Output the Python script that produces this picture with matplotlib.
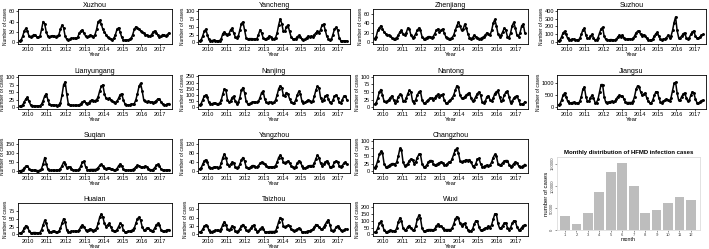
import matplotlib
matplotlib.use("Agg")
import matplotlib.pyplot as plt
import numpy as np

plt.rcParams['font.family'] = ['Liberation Sans', 'DejaVu Sans']

years = [2010, 2011, 2012, 2013, 2014, 2015, 2016, 2017]

# monthly case counts, Jan 2010 .. Dec 2017
xuzhou = [3, 5, 12, 22, 27, 22, 12, 10, 12, 15, 14, 10,
          10, 12, 25, 40, 35, 20, 12, 10, 12, 13, 12, 11,
          12, 15, 25, 33, 28, 12, 6, 5, 6, 8, 8, 8,
          8, 10, 18, 22, 24, 18, 12, 10, 12, 14, 13, 10,
          15, 25, 40, 42, 35, 25, 20, 15, 10, 8, 6, 5,
          8, 15, 25, 28, 20, 10, 5, 4, 4, 5, 6, 8,
          15, 25, 30, 28, 25, 22, 20, 18, 15, 14, 13, 12,
          15, 20, 22, 18, 14, 10, 12, 15, 14, 12, 15, 18]
yancheng = [5, 8, 20, 35, 42, 25, 10, 6, 6, 7, 6, 5,
            5, 6, 12, 28, 33, 28, 25, 28, 40, 45, 30, 18,
            15, 20, 40, 60, 65, 40, 15, 10, 12, 12, 12, 10,
            10, 12, 25, 40, 30, 15, 10, 12, 15, 20, 18, 12,
            12, 15, 30, 55, 75, 60, 35, 35, 50, 55, 35, 18,
            12, 10, 12, 18, 22, 18, 10, 8, 10, 15, 20, 18,
            20, 18, 25, 30, 35, 30, 40, 55, 58, 40, 20, 12,
            8, 10, 25, 42, 48, 40, 15, 6, 5, 5, 5, 5]
zhenjiang = [8, 12, 25, 30, 35, 28, 22, 18, 15, 15, 14, 10,
             8, 8, 10, 15, 22, 25, 18, 15, 20, 30, 28, 15,
             10, 12, 18, 25, 30, 25, 12, 8, 8, 10, 12, 12,
             10, 12, 18, 25, 28, 22, 25, 28, 20, 12, 10, 8,
             8, 10, 15, 25, 35, 42, 35, 25, 28, 38, 30, 18,
             10, 8, 10, 15, 12, 10, 8, 8, 10, 12, 15, 20,
             18, 15, 25, 40, 48, 35, 18, 12, 15, 22, 30, 25,
             12, 10, 20, 35, 42, 30, 15, 12, 20, 35, 38, 20]
suzhou = [20, 30, 70, 120, 140, 100, 50, 35, 35, 40, 40, 35,
          30, 30, 50, 100, 160, 175, 90, 50, 50, 80, 100, 60,
          30, 30, 60, 120, 170, 190, 80, 40, 30, 30, 35, 35,
          30, 30, 40, 70, 90, 70, 95, 60, 45, 40, 45, 45,
          40, 50, 80, 120, 140, 140, 100, 85, 95, 80, 50, 30,
          25, 25, 40, 80, 110, 125, 80, 40, 35, 40, 45, 60,
          90, 60, 80, 150, 250, 320, 150, 60, 60, 80, 110, 120,
          60, 40, 60, 100, 130, 145, 80, 50, 50, 70, 90, 100]
lianyungang = [3, 4, 8, 18, 28, 33, 20, 8, 5, 5, 5, 4,
               4, 5, 10, 22, 38, 45, 25, 10, 8, 8, 7, 6,
               5, 8, 15, 40, 75, 85, 45, 12, 8, 7, 6, 6,
               6, 6, 8, 12, 18, 20, 15, 12, 15, 20, 25, 22,
               22, 25, 35, 55, 70, 75, 45, 30, 28, 30, 25, 20,
               18, 15, 20, 30, 42, 45, 25, 12, 8, 8, 8, 10,
               10, 12, 25, 45, 70, 80, 55, 25, 20, 18, 20, 18,
               18, 15, 18, 22, 28, 28, 18, 10, 8, 8, 10, 12]
nanjing = [20, 30, 60, 90, 100, 85, 40, 30, 30, 35, 35, 30,
           30, 35, 60, 110, 150, 140, 60, 45, 50, 80, 90, 50,
           30, 40, 80, 140, 160, 120, 50, 30, 30, 35, 40, 45,
           45, 40, 50, 80, 120, 130, 70, 40, 35, 40, 40, 35,
           40, 60, 100, 150, 175, 160, 100, 90, 120, 110, 70, 45,
           35, 35, 60, 100, 130, 110, 50, 35, 40, 50, 60, 55,
           40, 50, 90, 140, 170, 160, 80, 55, 60, 90, 100, 70,
           40, 35, 60, 90, 100, 80, 40, 35, 60, 90, 95, 60]
nantong = [10, 15, 30, 50, 58, 40, 20, 18, 20, 25, 32, 38,
           25, 15, 20, 35, 42, 40, 22, 20, 30, 45, 55, 50,
           20, 15, 25, 40, 50, 52, 25, 15, 15, 20, 25, 30,
           30, 25, 30, 38, 42, 35, 40, 42, 25, 15, 15, 20,
           25, 30, 40, 55, 70, 65, 40, 30, 30, 35, 40, 45,
           48, 30, 20, 25, 35, 45, 50, 40, 18, 15, 20, 35,
           38, 25, 20, 30, 45, 50, 55, 35, 20, 25, 40, 50,
           52, 35, 15, 20, 30, 35, 38, 25, 12, 10, 12, 18]
jiangsu = [100, 150, 300, 500, 600, 450, 250, 200, 180, 200, 210, 200,
           180, 170, 250, 450, 750, 850, 450, 250, 250, 400, 500, 400,
           200, 200, 350, 650, 950, 950, 450, 220, 200, 220, 240, 250,
           220, 250, 350, 450, 500, 480, 480, 350, 220, 200, 200, 200,
           200, 250, 450, 750, 900, 850, 650, 500, 550, 600, 400, 250,
           180, 180, 300, 500, 650, 650, 400, 220, 200, 250, 300, 350,
           300, 250, 400, 700, 1000, 1050, 600, 300, 300, 450, 550, 600,
           400, 250, 300, 500, 650, 600, 350, 200, 180, 220, 280, 300]
suqian = [3, 4, 8, 18, 28, 30, 15, 6, 5, 5, 5, 4,
          4, 5, 15, 40, 75, 40, 12, 6, 5, 6, 6, 5,
          5, 8, 15, 30, 50, 40, 20, 22, 25, 15, 8, 6,
          5, 6, 12, 30, 50, 55, 25, 10, 8, 10, 10, 10,
          10, 12, 20, 32, 38, 30, 20, 15, 18, 18, 15, 12,
          8, 8, 15, 30, 40, 30, 12, 6, 5, 6, 6, 8,
          10, 15, 25, 32, 30, 25, 22, 25, 28, 25, 15, 10,
          8, 10, 20, 32, 38, 30, 12, 8, 6, 6, 8, 8]
yangzhou = [10, 15, 30, 45, 50, 40, 20, 15, 15, 18, 20, 18,
            15, 18, 35, 60, 75, 60, 30, 25, 30, 40, 35, 20,
            15, 18, 30, 50, 60, 45, 20, 15, 15, 20, 25, 25,
            20, 18, 25, 35, 40, 35, 30, 25, 20, 18, 20, 20,
            20, 25, 40, 60, 70, 60, 40, 35, 40, 45, 35, 25,
            18, 15, 20, 35, 45, 40, 25, 15, 15, 18, 22, 25,
            25, 25, 35, 55, 70, 60, 35, 25, 30, 40, 45, 35,
            20, 18, 25, 40, 45, 40, 25, 20, 25, 35, 40, 30]
changzhou = [12, 18, 35, 55, 65, 60, 25, 15, 15, 18, 22, 25,
             25, 22, 30, 50, 75, 70, 30, 18, 20, 25, 35, 40,
             38, 25, 30, 45, 55, 55, 25, 15, 15, 20, 30, 35,
             35, 25, 20, 22, 25, 28, 30, 28, 20, 20, 25, 30,
             30, 40, 55, 70, 75, 60, 35, 30, 32, 35, 38, 35,
             38, 30, 18, 15, 25, 40, 42, 25, 15, 15, 18, 20,
             18, 20, 30, 45, 55, 50, 25, 20, 22, 28, 33, 35,
             35, 22, 15, 18, 25, 30, 28, 18, 15, 15, 18, 22]
huaian = [4, 5, 10, 20, 28, 25, 12, 6, 5, 6, 6, 5,
          5, 6, 15, 30, 45, 35, 15, 8, 8, 10, 10, 8,
          8, 10, 20, 35, 50, 40, 15, 8, 8, 10, 10, 10,
          10, 10, 15, 25, 30, 25, 15, 12, 15, 18, 15, 12,
          15, 20, 35, 55, 65, 55, 35, 25, 30, 35, 25, 15,
          10, 10, 15, 25, 35, 30, 15, 8, 8, 10, 10, 12,
          15, 20, 35, 50, 55, 45, 25, 15, 15, 20, 20, 15,
          12, 12, 20, 30, 35, 30, 15, 10, 10, 12, 15, 15]
taizhou = [8, 10, 18, 28, 33, 30, 15, 10, 10, 12, 14, 14,
           14, 13, 20, 35, 45, 35, 18, 15, 20, 30, 25, 12,
           10, 12, 20, 30, 35, 25, 15, 12, 15, 22, 30, 33,
           20, 10, 12, 18, 25, 20, 10, 8, 8, 10, 10, 10,
           10, 12, 25, 45, 60, 55, 30, 25, 28, 32, 30, 18,
           14, 12, 15, 18, 22, 18, 10, 8, 8, 10, 12, 12,
           15, 18, 25, 35, 32, 25, 20, 18, 25, 35, 45, 52,
           35, 15, 12, 15, 25, 30, 22, 15, 12, 15, 18, 18]
wuxi = [15, 20, 45, 80, 95, 70, 30, 20, 20, 25, 30, 28,
        25, 25, 45, 90, 120, 100, 45, 30, 35, 55, 65, 45,
        30, 30, 60, 110, 140, 120, 45, 25, 25, 30, 35, 35,
        35, 30, 40, 60, 75, 65, 60, 45, 35, 35, 35, 35,
        35, 45, 75, 110, 130, 120, 80, 65, 75, 80, 55, 35,
        25, 25, 40, 75, 100, 95, 55, 30, 30, 40, 45, 50,
        60, 50, 70, 110, 150, 150, 80, 45, 45, 65, 80, 85,
        50, 35, 50, 80, 100, 95, 55, 35, 35, 50, 65, 70]

month_labels = [1, 2, 3, 4, 5, 6, 7, 8, 9, 10, 11, 12]
monthly_total = [31600, 13500, 39100, 85700, 131600, 150400,
                 99200, 39100, 45100, 60150, 74400, 68400]

panels = [
    ("Xuzhou", xuzhou, (-3, 64), [0, 20, 40, 60]),
    ("Yancheng", yancheng, (-5, 106), [0, 25, 50, 75, 100]),
    ("Zhenjiang", zhenjiang, (-3.5, 70), [0, 20, 40, 60]),
    ("Suzhou", suzhou, (-20, 420), [0, 100, 200, 300, 400]),
    ("Lianyungang", lianyungang, (-6, 108), [0, 25, 50, 75, 100]),
    ("Nanjing", nanjing, (-13, 262), [0, 50, 100, 150, 200, 250]),
    ("Nantong", nantong, (-5, 105), [0, 25, 50, 75, 100]),
    ("Jiangsu", jiangsu, (-70, 1350), [0, 500, 1000]),
    ("Suqian", suqian, (-9, 176), [0, 50, 100, 150]),
    ("Yangzhou", yangzhou, (-7, 140), [0, 40, 80, 120]),
    ("Changzhou", changzhou, (-6, 106), [0, 25, 50, 75, 100]),
    ("Huaian", huaian, (-5, 100), [0, 25, 50, 75]),
    ("Taizhou", taizhou, (-6, 112), [0, 30, 60, 90]),
    ("Wuxi", wuxi, (-12, 230), [0, 50, 100, 150, 200]),
]

W, H = 709, 249
col_left = [18, 198, 373, 557]
col_width = [154, 152, 155, 149]
row_top = [9, 75, 139, 203]
row_h = [35, 34, 34, 33]

fig = plt.figure(figsize=(W / 100, H / 100), dpi=100)

months = np.arange(len(xuzhou))
for i, (name, vals, ylim, yt) in enumerate(panels):
    r, c = divmod(i, 4)
    if i >= 11:
        r, c = 3, i - 11
    ax = fig.add_axes([col_left[c] / W, 1 - (row_top[r] + row_h[r]) / H,
                       col_width[c] / W, row_h[r] / H])
    ax.plot(months, vals, color='black', lw=1.1)
    ax.scatter(months, vals, s=1.2, color='black', zorder=3)
    ax.set_xlim(-1, 97)
    ax.set_ylim(*ylim)
    ax.set_yticks(yt)
    ax.set_xticks([5.5 + 12 * k for k in range(len(years))])
    ax.set_xticklabels(years)
    ax.tick_params(labelsize=4, length=1.5, width=0.5, pad=0.6)
    ax.set_title(name, fontsize=5, pad=1.5)
    ax.set_xlabel("Year", fontsize=4.2, labelpad=0)
    ax.set_ylabel("Number of cases", fontsize=3.5, labelpad=0.4)
    for s in ax.spines.values():
        s.set_linewidth(0.6)

# monthly distribution bar chart
bx = fig.add_axes([557 / W, 1 - 230 / H, 143 / W, 73 / H])
bx.bar(month_labels, monthly_total, width=0.85, color='#bdbdbd')
bx.set_xlim(0.3, 12.8)
bx.set_ylim(0, 165000)
bx.set_xticks(month_labels)
bx.set_yticks([0, 50000, 100000, 150000])
bx.tick_params(labelsize=3, length=1.2, width=0.4, pad=0.8, colors='#444444')
for lab in bx.get_yticklabels():
    lab.set_rotation(90)
    lab.set_va('center')
bx.set_title("Monthly distribution of HFMD infection cases", fontsize=4.3,
             fontweight='bold', pad=2)
bx.set_xlabel("month", fontsize=3.8, labelpad=0.5)
bx.set_ylabel("number of cases", fontsize=4.3, labelpad=1)
for s in bx.spines.values():
    s.set_color('#dddddd')
    s.set_linewidth(0.6)

fig.savefig("out.png", dpi=100)
